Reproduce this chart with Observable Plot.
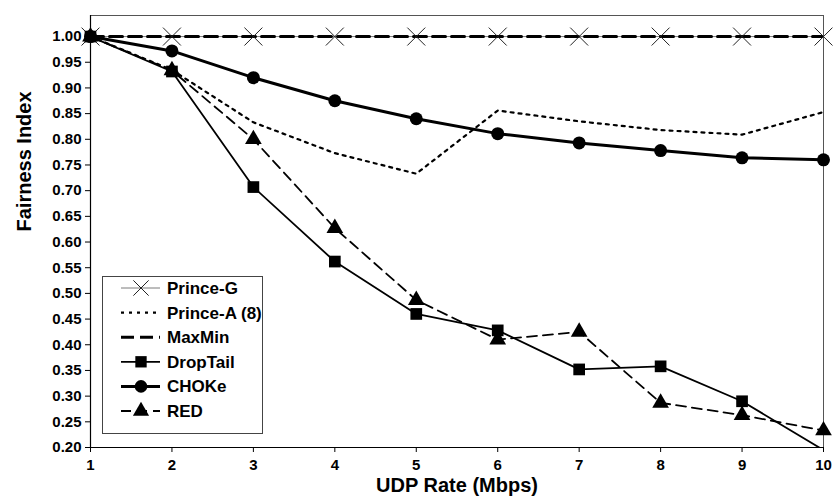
<!DOCTYPE html>
<html>
<head>
<meta charset="utf-8">
<script src="https://cdn.jsdelivr.net/npm/d3@7"></script>
<script src="https://cdn.jsdelivr.net/npm/@observablehq/plot@0.6"></script>
<style>
  html, body { margin: 0; padding: 0; background: #fff; }
  #wrap { position: relative; width: 833px; height: 502px; font-family: "Liberation Sans", Arial, Helvetica, sans-serif; }
  #legend { position: absolute; left: 102px; top: 276px; }
</style>
</head>
<body>
<div id="wrap"><div id="chart"></div><div id="legend"></div></div>
<script>
const rates = [1, 2, 3, 4, 5, 6, 7, 8, 9, 10];
const princeG = [1.00, 1.00, 1.00, 1.00, 1.00, 1.00, 1.00, 1.00, 1.00, 1.00];
const princeA = [1.00, 0.935, 0.833, 0.773, 0.733, 0.856, 0.835, 0.818, 0.809, 0.853];
const maxMin = [1.00, 1.00, 1.00, 1.00, 1.00, 1.00, 1.00, 1.00, 1.00, 1.00];
const dropTail = [1.00, 0.932, 0.707, 0.562, 0.460, 0.428, 0.352, 0.358, 0.290, 0.195];
const choke = [1.00, 0.972, 0.920, 0.875, 0.840, 0.811, 0.793, 0.778, 0.764, 0.760];
const red = [1.00, 0.934, 0.800, 0.627, 0.487, 0.410, 0.425, 0.287, 0.263, 0.233];
const yTicks = [0.20, 0.25, 0.30, 0.35, 0.40, 0.45, 0.50, 0.55, 0.60, 0.65, 0.70, 0.75, 0.80, 0.85, 0.90, 0.95, 1.00];
const seriesNames = ["Prince-G", "Prince-A (8)", "MaxMin", "DropTail", "CHOKe", "RED"];

const styles = {
  "Prince-G":    {stroke: "#7a7a7a", strokeWidth: 1,   dash: null,   symbol: "times",    r: 8.2, lr: 7.0, mstroke: "#222", mfill: "none"},
  "Prince-A (8)":{stroke: "#000",    strokeWidth: 2.2, dash: "3 5",  symbol: null},
  "MaxMin":      {stroke: "#000",    strokeWidth: 3,   dash: "13 6", symbol: null},
  "DropTail":    {stroke: "#000",    strokeWidth: 1.8, dash: null,   symbol: "square",   r: 6.6, lr: 6.4, mstroke: "none", mfill: "#000"},
  "CHOKe":       {stroke: "#000",    strokeWidth: 3,   dash: null,   symbol: "circle",   r: 6.5, lr: 6.3, mstroke: "none", mfill: "#000"},
  "RED":         {stroke: "#000",    strokeWidth: 1.8, dash: "10 6", symbol: "triangle", r: 6.2, lr: 6.0, mstroke: "none", mfill: "#000"}
};

const valuesBy = {
  "Prince-G": princeG, "Prince-A (8)": princeA, "MaxMin": maxMin,
  "DropTail": dropTail, "CHOKe": choke, "RED": red
};
const table = seriesNames.map(name => rates.map((x, i) => ({series: name, x, y: valuesBy[name][i]})));

const font = '"Liberation Sans", Arial, Helvetica, sans-serif';
const marks = [
  Plot.frame({stroke: "#555", strokeWidth: 1}),
];
const drawOrder = ["Prince-G", "MaxMin", "Prince-A (8)", "RED", "DropTail", "CHOKe"];
for (const name of drawOrder) {
  const s = styles[name];
  const data = table[seriesNames.indexOf(name)];
  marks.push(Plot.line(data, {x: "x", y: "y", stroke: s.stroke, strokeWidth: s.strokeWidth, strokeDasharray: s.dash, clip: true}));
}
for (const name of ["Prince-G", "RED", "DropTail", "CHOKe"]) {
  const s = styles[name];
  const data = table[seriesNames.indexOf(name)].filter(d => d.y >= 0.2);
  marks.push(Plot.dot(data, {x: "x", y: "y", symbol: s.symbol, r: s.r, fill: s.mfill, stroke: s.mstroke, strokeWidth: 1}));
}
marks.push(
  Plot.ruleX([1], {stroke: "#000", strokeWidth: 1.2}),
  Plot.ruleY([0.2], {stroke: "#000", strokeWidth: 1.2}),
  Plot.axisY({ticks: yTicks, tickSize: 5, tickPadding: 4, tickFormat: d3.format(".2f"), label: null, fontSize: 15, fontWeight: "bold"}),
  Plot.axisX({ticks: rates, tickSize: 5, tickPadding: 7, tickFormat: d3.format("d"), label: null, fontSize: 15, fontWeight: "bold"}),
  Plot.text(["Fairness Index"], {frameAnchor: "left", dx: -66, rotate: -90, fontSize: 20, fontWeight: "bold", fill: "#000"}),
  Plot.text(["UDP Rate (Mbps)"], {frameAnchor: "bottom", dy: 44, fontSize: 20, fontWeight: "bold", fill: "#000"})
);

const chart = Plot.plot({
  width: 833,
  height: 502,
  marginLeft: 90,
  marginRight: 10,
  marginTop: 15,
  marginBottom: 55,
  style: {fontFamily: font, color: "#000", background: "#fff", overflow: "visible"},
  x: {domain: [1, 10]},
  y: {domain: [0.2, 1.041]},
  marks
});
document.getElementById("chart").appendChild(chart);

// Legend
const lw = 160, lh = 157, rowH = 24.6, row0 = 11;
const svg = d3.select("#legend").append("svg").attr("width", lw + 2).attr("height", lh + 2)
  .style("overflow", "visible");
svg.append("rect").attr("x", 0.5).attr("y", 0.5).attr("width", lw).attr("height", lh)
  .attr("fill", "#fff").attr("stroke", "#444").attr("stroke-width", 1);
seriesNames.forEach((name, i) => {
  const s = styles[name];
  const cy = row0 + 1 + i * rowH;
  const g = svg.append("g");
  g.append("line").attr("x1", 19).attr("x2", 58).attr("y1", cy).attr("y2", cy)
    .attr("stroke", s.stroke).attr("stroke-width", s.strokeWidth)
    .attr("stroke-dasharray", s.dash);
  if (s.symbol) {
    const symMap = {times: d3.symbolTimes, square: d3.symbolSquare, circle: d3.symbolCircle, triangle: d3.symbolTriangle};
    g.append("path").attr("transform", `translate(39,${cy})`)
      .attr("d", d3.symbol(symMap[s.symbol], Math.PI * s.lr * s.lr)())
      .attr("fill", s.mfill).attr("stroke", s.mstroke).attr("stroke-width", 1);
  }
  g.append("text").attr("x", 65).attr("y", cy + 6).text(name)
    .attr("font-family", font).attr("font-size", 17).attr("font-weight", "bold").attr("fill", "#000");
});
</script>
</body>
</html>
